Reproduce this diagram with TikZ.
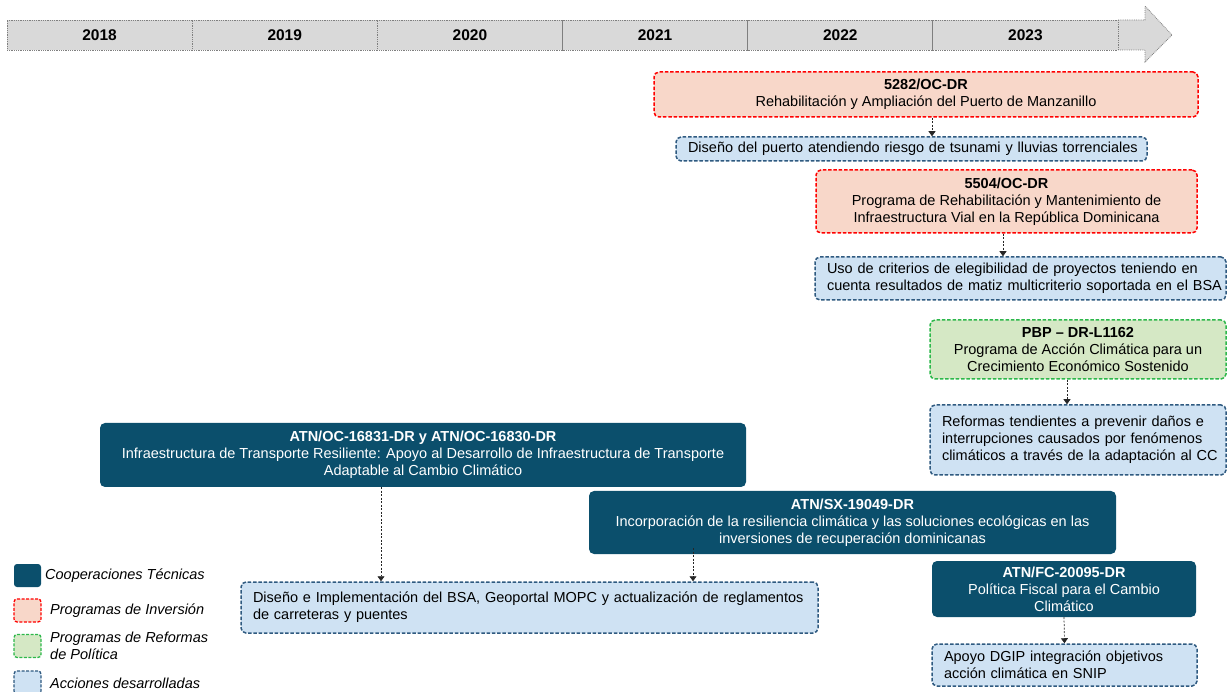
\documentclass[tikz,border=0pt]{standalone}
\usepackage{fontspec}
\setmainfont{Liberation Sans}
\usetikzlibrary{arrows.meta,calc}
\definecolor{ctblue}{HTML}{0B4F6C}
\definecolor{invfill}{HTML}{F8D7C9}
\definecolor{polfill}{HTML}{D5E8C5}
\definecolor{polline}{HTML}{2DB84B}
\definecolor{accfill}{HTML}{CFE2F3}
\definecolor{accline}{HTML}{2F5A80}
\definecolor{tlfill}{HTML}{D9D9D9}
\definecolor{tlline}{HTML}{7F7F7F}
\newcommand{\bodyfs}{\fontsize{14.5}{17}\selectfont}
\tikzset{
  yearbox/.style={draw=tlline, fill=tlfill, densely dotted, line width=0.8pt, minimum width=185.17pt, minimum height=30pt, inner sep=0pt, font=\fontsize{15.5}{18}\selectfont\bfseries},
  ctbox/.style={fill=ctblue, rounded corners=5pt, text=white, align=center, inner sep=0pt, font=\bodyfs},
  invbox/.style={fill=invfill, draw=red, dash pattern=on 3.5pt off 1.8pt, line width=1.5pt, rounded corners=5pt, align=center, inner sep=0pt, font=\bodyfs},
  polbox/.style={fill=polfill, draw=polline, dash pattern=on 3.5pt off 1.8pt, line width=1.5pt, rounded corners=5pt, align=center, inner sep=0pt, font=\bodyfs},
  accbox/.style={fill=accfill, draw=accline, dash pattern=on 3.5pt off 1.8pt, line width=1.5pt, rounded corners=5pt, align=left, inner xsep=12pt, inner ysep=0pt, font=\bodyfs},
  conn/.style={draw=black!85, line width=0.7pt, dash pattern=on 2pt off 1.5pt, -{Triangle[width=7pt,length=5pt]}},
  legtext/.style={anchor=west, align=left, inner sep=0pt, font=\fontsize{14.5}{17}\selectfont\itshape},
  legsq/.style={minimum width=27pt, minimum height=23pt, inner sep=0pt, rounded corners=3pt}
}
\begin{document}
\begin{tikzpicture}[x=1pt,y=-1pt]
\useasboundingbox (0,0) rectangle (1227,692);
% timeline arrow head
\draw[draw=tlline, fill=tlfill, densely dotted, line width=0.8pt]
  (1118,20) -- (1145,20) -- (1145,6) -- (1172,35) -- (1145,62) -- (1145,50) -- (1118,50);
% years
\node[yearbox] (y2018) at (99.6,35) {2018};
\node[yearbox] (y2019) at (284.75,35) {2019};
\node[yearbox] (y2020) at (469.9,35) {2020};
\node[yearbox] (y2021) at (655.1,35) {2021};
\node[yearbox] (y2022) at (840.25,35) {2022};
\node[yearbox] (y2023) at (1025.4,35) {2023};

% boxes
\node[invbox, minimum width=544pt, minimum height=45pt] (b5282) at (926,94.5)
  {\textbf{5282/OC-DR}\\Rehabilitación y Ampliación del Puerto de Manzanillo};
\node[accbox, text width=447pt, minimum height=24pt] (dis) at (911.5,149)
  {\mbox{Diseño del puerto atendiendo riesgo de tsunami y lluvias torrenciales}};
\node[invbox, minimum width=381pt, minimum height=63pt] (b5504) at (1006.5,201.5)
  {\textbf{5504/OC-DR}\\Programa de Rehabilitación y Mantenimiento de\\Infraestructura Vial en la República Dominicana};
\node[accbox, text width=387pt, minimum height=43pt] (uso) at (1020.5,278.5)
  {\mbox{Uso de criterios de elegibilidad de proyectos teniendo en}\\\mbox{cuenta resultados de matiz multicriterio soportada en el BSA}};
\node[polbox, minimum width=296pt, minimum height=59pt] (pbp) at (1078,349.5)
  {\textbf{PBP – DR-L1162}\\Programa de Acción Climática para un\\Crecimiento Económico Sostenido};
\node[accbox, text width=272pt, minimum height=70pt] (ref) at (1078,440)
  {\mbox{Reformas tendientes a prevenir daños e}\\\mbox{interrupciones causados por fenómenos}\\\mbox{climáticos a través de la adaptación al CC}};
\node[ctbox, minimum width=646pt, minimum height=64pt] (atnoc) at (423,455)
  {\textbf{ATN/OC-16831-DR y ATN/OC-16830-DR}\\Infraestructura de Transporte Resiliente: Apoyo al Desarrollo de Infraestructura de Transporte\\Adaptable al Cambio Climático};
\node[ctbox, minimum width=527pt, minimum height=63pt] (atnsx) at (852.5,522.5)
  {\textbf{ATN/SX-19049-DR}\\Incorporación de la resiliencia climática y las soluciones ecológicas en las\\inversiones de recuperación dominicanas};
\node[accbox, text width=553pt, minimum height=51pt] (disimpl) at (529.5,607.5)
  {\mbox{Diseño e Implementación del BSA, Geoportal MOPC y actualización de reglamentos}\\\mbox{de carreteras y puentes}};
\node[ctbox, minimum width=264pt, minimum height=56pt] (atnfc) at (1064,589)
  {\textbf{ATN/FC-20095-DR}\\Política Fiscal para el Cambio\\Climático};
\node[accbox, text width=241pt, minimum height=42pt] (apoyo) at (1064.5,665)
  {\mbox{Apoyo DGIP integración objetivos}\\\mbox{acción climática en SNIP}};

% connectors
\draw[conn] ([xshift=6pt]b5282.south) -- ([xshift=20.5pt]dis.north);
\draw[conn] ([xshift=-3.5pt]b5504.south) -- ([xshift=-17.5pt]uso.north);
\draw[conn] ([xshift=-11pt]pbp.south) -- ([xshift=-11pt]ref.north);
\draw[conn] ([xshift=-42pt]atnoc.south) -- ([xshift=-148.5pt]disimpl.north);
\draw[conn] ([xshift=-159.5pt,yshift=6pt]atnsx.south) -- ([xshift=163.5pt]disimpl.north);
\draw[conn] (atnfc.south) -- (apoyo.north);

% legend
\node[legsq, fill=ctblue] (lg1) at (27.5,575.5) {};
\node[legsq, fill=invfill, draw=red, dash pattern=on 3pt off 1.5pt, line width=1.3pt] (lg2) at (27.5,610.5) {};
\node[legsq, fill=polfill, draw=polline, dash pattern=on 3pt off 1.5pt, line width=1.3pt] (lg3) at (27.5,646) {};
\node[legsq, fill=accfill, draw=accline, dash pattern=on 3pt off 1.5pt, line width=1.3pt] (lg4) at (27.5,682.5) {};
\node[legtext] (lt1) at (45,575.5) {Cooperaciones Técnicas};
\node[legtext] (lt2) at (50,610.5) {Programas de Inversión};
\node[legtext] (lt3) at (50,646) {Programas de Reformas\\de Política};
\node[legtext] (lt4) at (50,683) {Acciones desarrolladas};
\end{tikzpicture}
\end{document}
